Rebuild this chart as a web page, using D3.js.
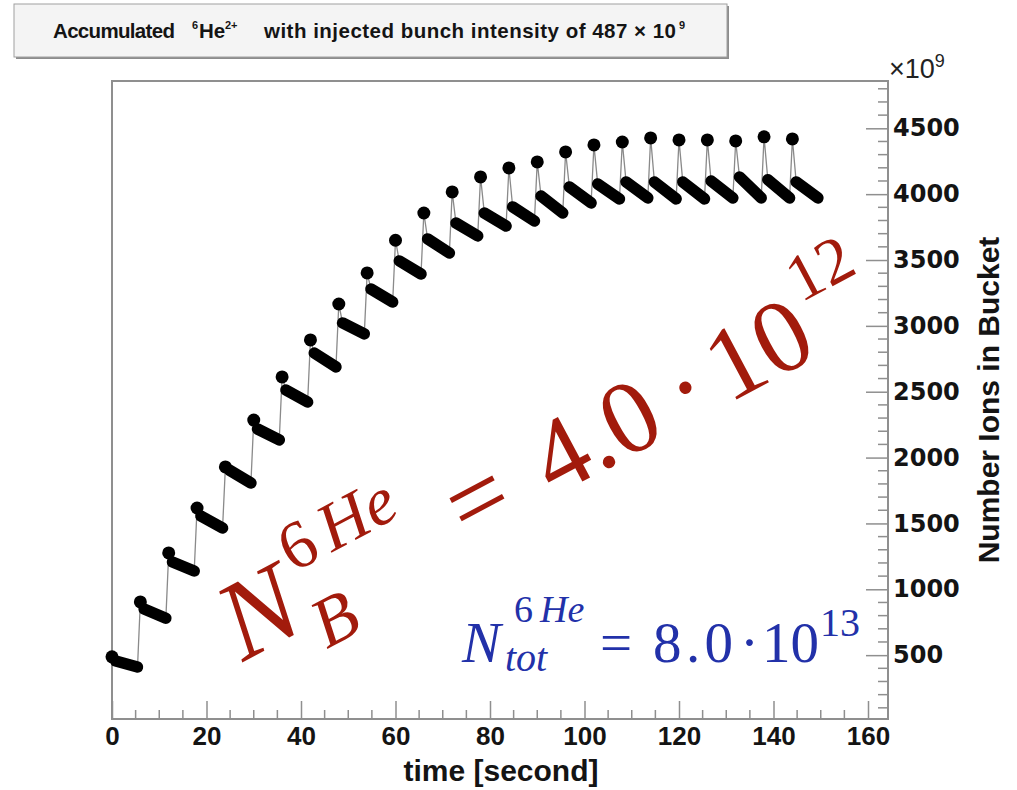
<!DOCTYPE html>
<html>
<head>
<meta charset="utf-8">
<script src="https://cdn.jsdelivr.net/npm/d3@7"></script>
<style>
body { margin: 0; background: #fff; }
svg { display: block; }
.tick text, .lab { font-family: "Liberation Sans", Arial, sans-serif; font-weight: bold; fill: #141414; }
.eq { font-family: "Liberation Serif", "DejaVu Serif", serif; }
</style>
</head>
<body>
<svg width="1017" height="790"></svg>
<script>
// **** data (ions x 10^9, time in s) ****
var injTime = [0, 6, 12, 18, 24, 30, 36, 42, 48, 54, 60, 66, 72, 78, 84, 90, 96, 102, 108, 114, 120, 126, 132, 138, 144];
var peakIons = [487, 904, 1276, 1617, 1929, 2285, 2612, 2893, 3166, 3402, 3650, 3857, 4017, 4131, 4199, 4245, 4321, 4374, 4396, 4427, 4412, 4412, 4404, 4435, 4419];

var bandStartTime = [0.8, 6.8, 12.8, 18.8, 24.8, 30.8, 36.8, 42.8, 48.8, 54.8, 60.8, 66.8, 72.8, 78.8, 84.8, 90.8, 96.8, 102.8, 108.8, 114.8, 120.8, 126.8, 132.8, 138.8, 144.8];
var bandStartIons = [455, 850, 1207, 1557, 1906, 2217, 2513, 2794, 3022, 3280, 3493, 3660, 3781, 3857, 3903, 3986, 4055, 4077, 4093, 4093, 4093, 4100, 4131, 4110, 4093];

var bandEndTime = [5.4, 11.4, 17.4, 23.4, 29.4, 35.4, 41.4, 47.4, 53.4, 59.4, 65.4, 71.4, 77.4, 83.4, 89.4, 95.4, 101.4, 107.4, 113.4, 119.4, 125.4, 131.4, 137.4, 143.4, 149.4];
var bandEndIons = [410, 780, 1139, 1465, 1807, 2134, 2422, 2688, 2939, 3181, 3394, 3553, 3683, 3758, 3796, 3857, 3933, 3964, 3971, 3964, 3964, 3971, 3971, 3971, 3971];

var xTicks = [0, 20, 40, 60, 80, 100, 120, 140, 160];
var yTicks = [500, 1000, 1500, 2000, 2500, 3000, 3500, 4000, 4500];

// **** scales, frame and axes ****
var svg = d3.select('svg');

var xScale = d3.scaleLinear().domain([0, 160]).range([112, 868]);
var yScale = d3.scaleLinear().domain([0, 4500]).range([721, 128.3]);

// title pave
svg.append('rect').attr('x', 16).attr('y', 6).attr('width', 713).attr('height', 53).attr('fill', '#8c8c8c');
svg.append('rect').attr('x', 14).attr('y', 4).attr('width', 713).attr('height', 53)
    .attr('fill', '#f4f4f4').attr('stroke', '#a0a0a0').attr('stroke-width', 1);

var title = svg.append('text').attr('class', 'lab').attr('y', 38).style('font-size', '20.5px');
title.append('tspan').attr('x', 53).attr('textLength', 122).text('Accumulated');
title.append('tspan').attr('x', 192).attr('y', 29).style('font-size', '11px').text('6');
title.append('tspan').attr('x', 199).attr('y', 38).text('He');
title.append('tspan').attr('x', 225).attr('y', 29).style('font-size', '11px').text('2+');
title.append('tspan').attr('x', 264).attr('y', 38).attr('textLength', 412)
    .text('with injected bunch intensity of 487 \u00d7 10');
title.append('tspan').attr('x', 679).attr('y', 29).style('font-size', '11px').text('9');

// plot frame
svg.append('rect').attr('x', 112).attr('y', 81).attr('width', 776).attr('height', 638)
    .attr('fill', 'none').attr('stroke', '#8f8f8f').attr('stroke-width', 2);

// x axis ticks (inside, pointing up)
var xMinor = d3.range(5, 160, 5).filter(function(d) { return d % 20 !== 0; });
svg.append('g').attr('transform', 'translate(0,719)')
    .selectAll('line').data(xMinor).enter().append('line')
    .attr('x1', function(d) { return xScale(d); }).attr('x2', function(d) { return xScale(d); })
    .attr('y1', 0).attr('y2', -9).attr('stroke', '#8f8f8f').attr('stroke-width', 1.5);

var xAxis = svg.append('g').attr('transform', 'translate(0,719)')
    .call(d3.axisBottom(xScale).tickValues(xTicks).tickSizeInner(-18).tickSizeOuter(0).tickPadding(8)
        .tickFormat(function(d) { return d; }));
xAxis.select('.domain').remove();
xAxis.selectAll('.tick line').attr('stroke', '#8f8f8f').attr('stroke-width', 1.5);
xAxis.selectAll('.tick text').style('font-size', '26px').attr('dy', '0.71em');

// y axis on the right (ticks pointing left)
var yMinor = d3.range(100, 4900, 100).filter(function(d) { return d % 500 !== 0; });
svg.append('g').attr('transform', 'translate(888,0)')
    .selectAll('line').data(yMinor).enter().append('line')
    .attr('y1', function(d) { return yScale(d); }).attr('y2', function(d) { return yScale(d); })
    .attr('x1', 0).attr('x2', -10).attr('stroke', '#8f8f8f').attr('stroke-width', 1.5);

var yAxis = svg.append('g').attr('transform', 'translate(888,0)')
    .call(d3.axisRight(yScale).tickValues(yTicks).tickSizeInner(-22).tickSizeOuter(0).tickPadding(5)
        .tickFormat(function(d) { return d; }));
yAxis.select('.domain').remove();
yAxis.selectAll('.tick line').attr('stroke', '#8f8f8f').attr('stroke-width', 1.5);
yAxis.selectAll('.tick text').style('font-family', '"DejaVu Sans", sans-serif').style('font-size', '24px');

// exponent label
var expo = svg.append('text').attr('x', 889).attr('y', 78)
    .style('font-family', '"Liberation Sans", Arial, sans-serif').style('font-size', '27px').attr('fill', '#222');
expo.append('tspan').text('\u00d710');
expo.append('tspan').attr('dy', -11).style('font-size', '18px').text('9');

// axis titles
svg.append('text').attr('class', 'lab')
    .attr('x', 501).attr('y', 781).attr('text-anchor', 'middle')
    .style('font-size', '30px').text('time [second]');
svg.append('text').attr('class', 'lab')
    .attr('transform', 'translate(999,400) rotate(-90)').attr('text-anchor', 'middle')
    .style('font-size', '30px').text('Number Ions in Bucket');

// **** data marks ****
var defs = svg.append('defs');
defs.append('filter').attr('id', 'soft').append('feGaussianBlur').attr('stdDeviation', 0.6);

var pts = [];
injTime.forEach(function(t, i) {
    pts.push([t, peakIons[i]]);
    pts.push([bandStartTime[i], bandStartIons[i]]);
    pts.push([bandEndTime[i], bandEndIons[i]]);
});

var marks = svg.append('g').attr('filter', 'url(#soft)');

marks.append('path').datum(pts)
    .attr('fill', 'none').attr('stroke', '#8a8a8a').attr('stroke-width', 1.3)
    .attr('d', d3.line()
        .x(function(d) { return xScale(d[0]); })
        .y(function(d) { return yScale(d[1]); }));

marks.selectAll('.band').data(injTime).enter().append('line')
    .attr('class', 'band')
    .attr('x1', function(d, i) { return xScale(bandStartTime[i]); })
    .attr('y1', function(d, i) { return yScale(bandStartIons[i]); })
    .attr('x2', function(d, i) { return xScale(bandEndTime[i]); })
    .attr('y2', function(d, i) { return yScale(bandEndIons[i]); })
    .attr('stroke', '#000').attr('stroke-width', 11.5).attr('stroke-linecap', 'round');

marks.selectAll('.peak').data(injTime).enter().append('circle')
    .attr('class', 'peak')
    .attr('cx', function(d) { return xScale(d); })
    .attr('cy', function(d, i) { return yScale(peakIons[i]); })
    .attr('r', 6.5).attr('fill', '#000');

// **** annotations ****
function piece(g, u, v, size, txt, italic, len) {
    var t = g.append('text').attr('x', u).attr('y', v)
        .style('font-size', size + 'px')
        .style('font-style', italic ? 'italic' : 'normal')
        .text(txt);
    if (len) t.attr('textLength', len);
}

var red = svg.append('g').attr('class', 'eq').attr('fill', '#a21b0c')
    .attr('transform', 'translate(243,662) rotate(-28)');
piece(red, 0, 0, 112, 'N', true);
piece(red, 86, -55, 68, '6', false);
piece(red, 130, -55, 68, 'He', true);
piece(red, 80, 28, 70, 'B', true);
piece(red, 254, 0, 104, '=', false);
piece(red, 352, 0, 104, '4.0', false);
piece(red, 502, 0, 104, '\u00b7', false);
piece(red, 550, 0, 104, '10', false);
piece(red, 661, -55, 66, '12', false);

var blue = svg.append('g').attr('class', 'eq').attr('fill', '#2231a9');
piece(blue, 462, 662, 58, 'N', true);
piece(blue, 514, 622, 38, '6', false);
piece(blue, 540, 622, 38, 'He', true);
piece(blue, 505, 671, 40, 'tot', true);
piece(blue, 600, 662, 57, '=', false);
piece(blue, 653, 662, 57, '8.0', false, 80);
piece(blue, 740, 662, 57, '\u00b7', false);
piece(blue, 762, 662, 57, '10', false);
piece(blue, 820, 636, 40, '13', false);
</script>
</body>
</html>
